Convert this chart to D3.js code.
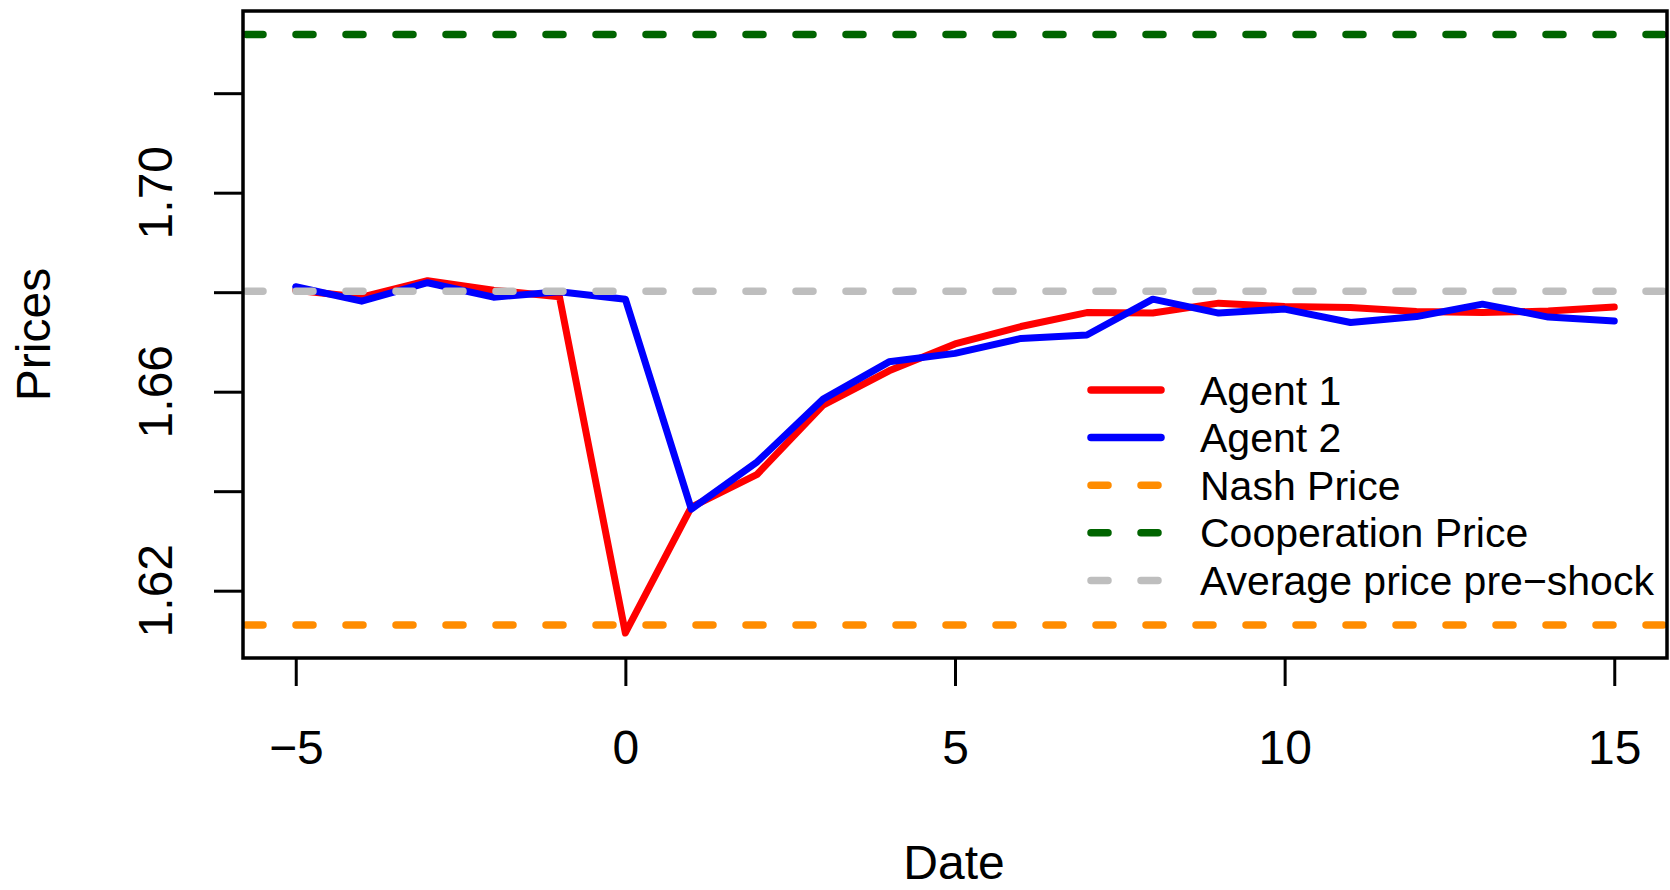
<!DOCTYPE html>
<html>
<head>
<meta charset="utf-8">
<script src="https://cdn.jsdelivr.net/npm/d3@7"></script>
<style>
  html, body { margin: 0; padding: 0; background: #fff; }
  svg { display: block; }
  text { font-family: "Liberation Sans", Arial, Helvetica, sans-serif; fill: #000; }
</style>
</head>
<body>
<svg id="chart" width="1670" height="890"></svg>
<script>
// ---- data ----
const dates = [-5,-4,-3,-2,-1,0,1,2,3,4,5,6,7,8,9,10,11,12,13,14,15];
const agent1 = [1.6804,1.6790,1.6823,1.6804,1.6791,1.6115,1.6368,1.6434,1.6573,1.6642,1.6696,1.6731,1.6759,1.6758,1.6778,1.6771,1.6769,1.6761,1.6759,1.6762,1.6770];
const agent2 = [1.6811,1.6782,1.6819,1.6790,1.6801,1.6786,1.6364,1.6459,1.6585,1.6660,1.6677,1.6707,1.6714,1.6786,1.6758,1.6766,1.6739,1.6751,1.6776,1.6750,1.6742];
const nashPrice = 1.6131;
const coopPrice = 1.7318;
const avgPreShock = 1.6802;
const xTicks = [-5, 0, 5, 10, 15];
const yTicks = [1.62, 1.64, 1.66, 1.68, 1.70, 1.72];
const yLabelTicks = [1.62, 1.66, 1.70];
const legendLabels = ["Agent 1", "Agent 2", "Nash Price", "Cooperation Price", "Average price pre\u2212shock"];
const xTitle = "Date";
const yTitle = "Prices";

// ---- layout ----
const svg = d3.select("#chart");
const L = 243, R = 1667, T = 11, B = 658;
const x = d3.scaleLinear().domain([-5.8, 15.8]).range([L, R]);
const y = d3.scaleLinear().domain([1.60647, 1.73652]).range([B, T]);
const fmtMinus = d => String(d).replace("-", "\u2212");

svg.append("rect").attr("width", 1670).attr("height", 890).attr("fill", "#fff");

svg.append("defs").append("clipPath").attr("id", "plotclip")
  .append("rect").attr("x", L).attr("y", T).attr("width", R - L).attr("height", B - T);

// series
const line = d3.line().x((d, i) => x(dates[i])).y(d => y(d));
const plot = svg.append("g").attr("clip-path", "url(#plotclip)");
plot.append("path").datum(agent1).attr("d", line)
  .attr("fill", "none").attr("stroke", "#FF0000").attr("stroke-width", 7)
  .attr("stroke-linejoin", "round").attr("stroke-linecap", "round");
plot.append("path").datum(agent2).attr("d", line)
  .attr("fill", "none").attr("stroke", "#0000FF").attr("stroke-width", 7)
  .attr("stroke-linejoin", "round").attr("stroke-linecap", "round");

// reference lines
const refs = [
  {v: nashPrice, c: "#FF8C00"},
  {v: coopPrice, c: "#006400"},
  {v: avgPreShock, c: "#BEBEBE"}
];
refs.forEach(r => {
  plot.append("line")
    .attr("x1", L).attr("x2", R + 10)
    .attr("y1", y(r.v)).attr("y2", y(r.v))
    .attr("stroke", r.c).attr("stroke-width", 7.5)
    .attr("stroke-dasharray", "17,33").attr("stroke-dashoffset", 47)
    .attr("stroke-linecap", "round");
});

// box
svg.append("rect").attr("x", L).attr("y", T).attr("width", R - L).attr("height", B - T)
  .attr("fill", "none").attr("stroke", "#000").attr("stroke-width", 3.5);

// x axis
const xa = svg.append("g").attr("transform", `translate(0,${B})`)
  .call(d3.axisBottom(x).tickValues(xTicks).tickSize(28).tickPadding(44).tickFormat(fmtMinus));
xa.select(".domain").remove();
xa.selectAll(".tick line").attr("stroke", "#000").attr("stroke-width", 3);
xa.selectAll(".tick text").attr("font-size", 48).attr("font-family", "Liberation Sans, Arial, sans-serif").attr("fill", "#000");

// y axis
const ya = svg.append("g").attr("transform", `translate(${L},0)`)
  .call(d3.axisLeft(y).tickValues(yTicks).tickSize(29).tickFormat(""));
ya.select(".domain").remove();
ya.selectAll(".tick line").attr("stroke", "#000").attr("stroke-width", 3);
svg.append("g").selectAll("text").data(yLabelTicks).join("text")
  .attr("transform", d => `translate(172,${y(d)}) rotate(-90)`)
  .attr("text-anchor", "middle").attr("font-size", 48)
  .text(d => d3.format(".2f")(d));

// titles
svg.append("text").attr("x", (L + R) / 2 - 1).attr("y", 879)
  .attr("text-anchor", "middle").attr("font-size", 48).text(xTitle);
svg.append("text").attr("transform", `translate(50,${(T + B) / 2}) rotate(-90)`)
  .attr("text-anchor", "middle").attr("font-size", 48).text(yTitle);

// legend
const legendColors = ["#FF0000", "#0000FF", "#FF8C00", "#006400", "#BEBEBE"];
const legendDashed = [false, false, true, true, true];
const lg = svg.append("g");
legendLabels.forEach((lab, i) => {
  const ly = 390 + i * 47.6;
  const ln = lg.append("line").attr("x1", 1091).attr("x2", 1161).attr("y1", ly).attr("y2", ly)
    .attr("stroke", legendColors[i]).attr("stroke-width", 7.5).attr("stroke-linecap", "round");
  if (legendDashed[i]) ln.attr("stroke-dasharray", "17,33");
  lg.append("text").attr("x", 1200).attr("y", ly + 14.5).attr("font-size", 41).text(lab);
});
</script>
</body>
</html>
